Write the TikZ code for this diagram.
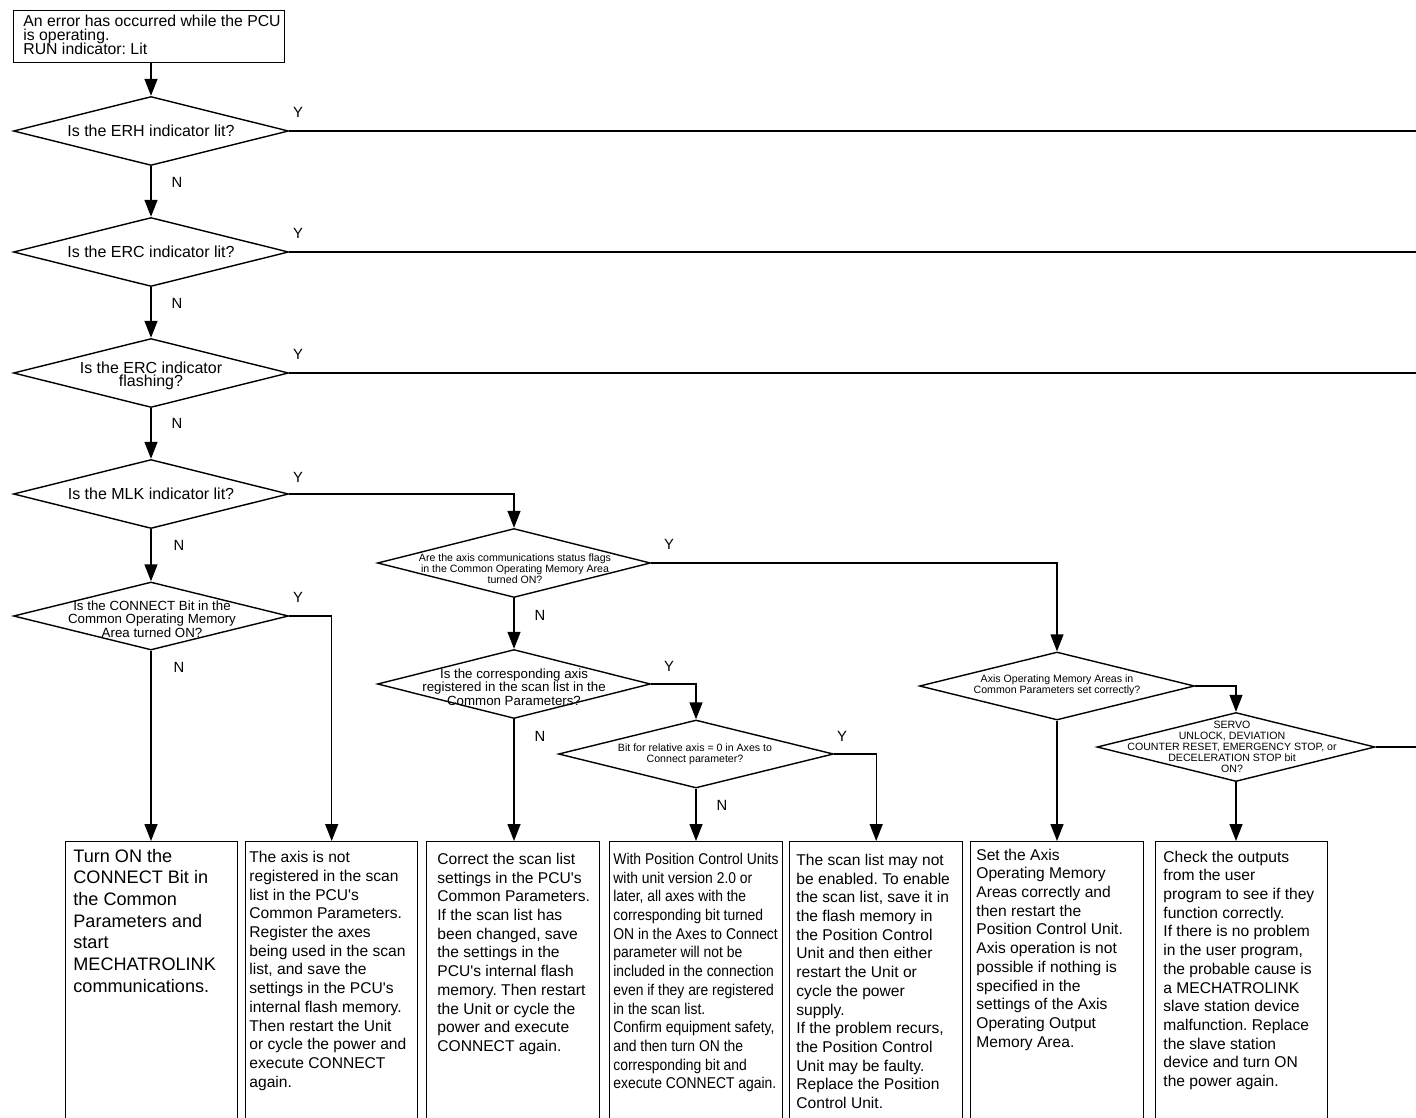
\documentclass[tikz,border=0pt]{standalone}
\usepackage{fontspec}
\setmainfont{Liberation Sans}[Ligatures=TeXOff]
\newfontfamily\narrowfont{Liberation Sans}[Ligatures=TeXOff,FakeStretch=0.89]
\usetikzlibrary{shapes.geometric,arrows.meta}
\tikzset{
  ln/.style={line width=0.7pt},
  arr/.style={ln,-{Triangle[length=8.5pt,width=6.5pt]}},
  dia/.style={diamond,draw,ln,inner sep=0pt,minimum width=137.5pt,minimum height=34.5pt},
  box/.style={rectangle,draw,ln,inner sep=0pt,anchor=north west,minimum width=86.5pt,minimum height=145pt},
  lbl/.style={inner sep=0pt,font=\fontsize{7.4pt}{8pt}\selectfont},
  dbig/.style={align=center,inner sep=0pt,font=\fontsize{8pt}{6.8pt}\selectfont},
  dmid/.style={align=center,inner sep=0pt,font=\fontsize{6.65pt}{6.65pt}\selectfont},
  dsml/.style={align=center,inner sep=0pt,font=\fontsize{5.3pt}{5.5pt}\selectfont},
  btxt/.style={align=left,inner sep=0pt,anchor=north west,font=\fontsize{7.8pt}{9.35pt}\selectfont},
}
\begin{document}
\lineskiplimit=-20pt
\frenchspacing
\begin{tikzpicture}[x=0.5pt,y=-0.5pt]
\useasboundingbox (0,0) rectangle (1416,1117);
\clip (0,0) rectangle (1416,1117);
\coordinate (R) at (1420,0);

% start box
\node[box,minimum width=135.5pt,minimum height=26pt] (top) at (13,10) {};
\node[align=left,inner sep=0pt,anchor=north west,font=\fontsize{7.9pt}{6.9pt}\selectfont] (toptxt) at (23,15)
  {An error has occurred while the PCU\\is operating.\\RUN indicator: Lit};

% left column decisions
\node[dia] (d1) at (151,131) {};
\node[dbig] (d1t) at (151,131) {Is the ERH indicator lit?};
\node[dia] (d2) at (151,252) {};
\node[dbig] (d2t) at (151,252) {Is the ERC indicator lit?};
\node[dia] (d3) at (151,373) {};
\node[dbig] (d3t) at (151,376) {Is the ERC indicator\\flashing?};
\node[dia] (d4) at (151,494) {};
\node[dbig] (d4t) at (151,494) {Is the MLK indicator lit?};
\node[dia,minimum height=34pt] (d5) at (151,616) {};
\node[dmid] (d5t) at (152,619) {Is the CONNECT Bit in the\\Common Operating Memory\\Area turned ON?};

% other decisions
\node[dia,minimum width=136.5pt] (da) at (514,563) {};
\node[dsml,font=\fontsize{5.3pt}{5.6pt}\selectfont] (dat) at (515,569) {Are the axis communications status flags\\in the Common Operating Memory Area\\turned ON?};
\node[dia,minimum width=136.5pt] (db) at (514,684) {};
\node[dmid] (dbt) at (514,687) {Is the corresponding axis\\registered in the scan list in the\\Common Parameters?};
\node[dia,minimum height=34pt] (dc) at (696,754) {};
\node[dsml] (dct) at (695,754) {Bit for relative axis = 0 in Axes to\\Connect parameter?};
\node[dia,minimum height=34pt] (dd) at (1057,686) {};
\node[dsml] (ddt) at (1057,685) {Axis Operating Memory Areas in\\Common Parameters set correctly?};
\node[dia,minimum width=139pt] (de) at (1236,747) {};
\node[dsml] (det) at (1232,747) {SERVO\\UNLOCK, DEVIATION\\COUNTER RESET, EMERGENCY STOP, or\\DECELERATION STOP bit\\ON?};

% result boxes
\node[box,minimum width=86pt] (b1) at (65,841) {};
\node[box,minimum width=86pt] (b2) at (245,841) {};
\node[box] (b3) at (426,841) {};
\node[box] (b4) at (609,841) {};
\node[box] (b5) at (789,841) {};
\node[box] (b6) at (970,841) {};
\node[box,minimum width=86pt] (b7) at (1155,841) {};

\node[btxt,font=\fontsize{9.05pt}{10.85pt}\selectfont] (t1) at (73,848.5)
  {Turn ON the\\CONNECT Bit in\\the Common\\Parameters and\\start\\MECHATROLINK\\communications.};
\node[btxt] (t2) at (249,851)
  {The axis is not\\registered in the scan\\list in the PCU's\\Common Parameters.\\Register the axes\\being used in the scan\\list, and save the\\settings in the PCU's\\internal flash memory.\\Then restart the Unit\\or cycle the power and\\execute CONNECT\\again.};
\node[btxt] (t3) at (437,852.7)
  {Correct the scan list\\settings in the PCU's\\Common Parameters.\\If the scan list has\\been changed, save\\the settings in the\\PCU's internal flash\\memory. Then restart\\the Unit or cycle the\\power and execute\\CONNECT again.};
\node[btxt,font=\narrowfont\fontsize{7.8pt}{9.35pt}\selectfont] (t4) at (613,852.7)
  {With Position Control Units\\with unit version 2.0 or\\later, all axes with the\\corresponding bit turned\\ON in the Axes to Connect\\parameter will not be\\included in the connection\\even if they are registered\\in the scan list.\\Confirm equipment safety,\\and then turn ON the\\corresponding bit and\\execute CONNECT again.};
\node[btxt] (t5) at (796,853.7)
  {The scan list may not\\be enabled. To enable\\the scan list, save it in\\the flash memory in\\the Position Control\\Unit and then either\\restart the Unit or\\cycle the power\\supply.\\If the problem recurs,\\the Position Control\\Unit may be faulty.\\Replace the Position\\Control Unit.};
\node[btxt] (t6) at (976,848.4)
  {Set the Axis\\Operating Memory\\Areas correctly and\\then restart the\\Position Control Unit.\\Axis operation is not\\possible if nothing is\\specified in the\\settings of the Axis\\Operating Output\\Memory Area.};
\node[btxt] (t7) at (1163,850.4)
  {Check the outputs\\from the user\\program to see if they\\function correctly.\\If there is no problem\\in the user program,\\the probable cause is\\a MECHATROLINK\\slave station device\\malfunction. Replace\\the slave station\\device and turn ON\\the power again.};

% labels
\node[lbl] (y1) at (298,112) {Y};
\node[lbl] (y2) at (298,233) {Y};
\node[lbl] (y3) at (298,354) {Y};
\node[lbl] (y4) at (298,477) {Y};
\node[lbl] (y5) at (298,597) {Y};
\node[lbl] (ya) at (669,544) {Y};
\node[lbl] (yb) at (669,666) {Y};
\node[lbl] (yc) at (842,736) {Y};
\node[lbl] (n1) at (177,182) {N};
\node[lbl] (n2) at (177,303) {N};
\node[lbl] (n3) at (177,423) {N};
\node[lbl] (n4) at (179,545) {N};
\node[lbl] (n5) at (179,667) {N};
\node[lbl] (na) at (540,615) {N};
\node[lbl] (nb) at (540,736) {N};
\node[lbl] (nc) at (722,805) {N};

% connectors
\draw[arr] (d1.north |- top.south) -- (d1.north);
\draw[arr] (d1.south) -- (d2.north);
\draw[arr] (d2.south) -- (d3.north);
\draw[arr] (d3.south) -- (d4.north);
\draw[arr] (d4.south) -- (d5.north);
\draw[ln] (d1.east) -- (d1.east -| R);
\draw[ln] (d2.east) -- (d2.east -| R);
\draw[ln] (d3.east) -- (d3.east -| R);
\draw[arr] (d4.east) -| (da.north);
\draw[arr] (d5.east) -| (b2.north);
\draw[arr] (d5.south) -- (d5.south |- b1.north);
\draw[arr] (da.south) -- (db.north);
\draw[arr] (da.east) -| (dd.north);
\draw[arr] (db.east) -| (dc.north);
\draw[arr] (db.south) -- (db.south |- b3.north);
\draw[arr] (dc.east) -| (b5.north);
\draw[arr] (dc.south) -- (dc.south |- b4.north);
\draw[arr] (dd.east) -| (de.north);
\draw[arr] (dd.south) -- (dd.south |- b6.north);
\draw[arr] (de.south) -- (de.south |- b7.north);
\draw[ln] (de.east) -- (de.east -| R);
\end{tikzpicture}
\end{document}
